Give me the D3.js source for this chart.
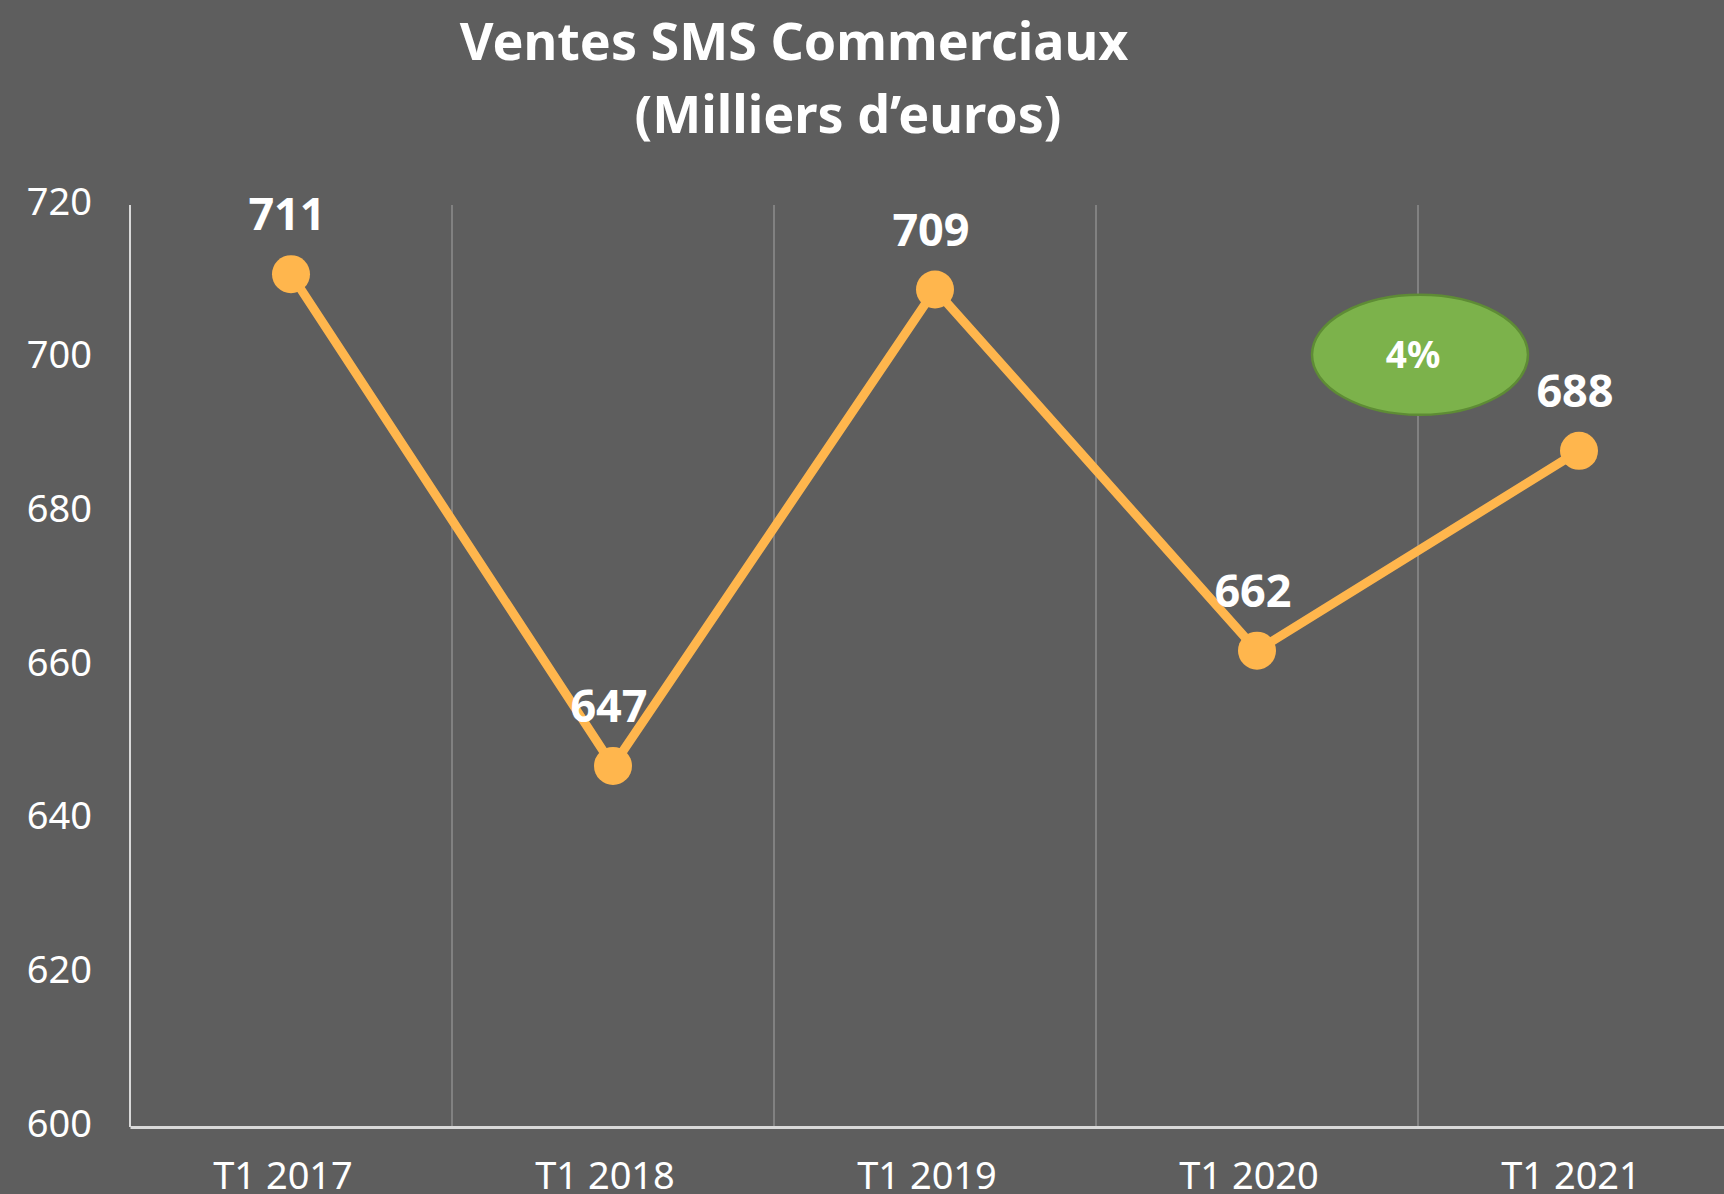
<!DOCTYPE html>
<html>
<head>
<meta charset="utf-8">
<script src="https://cdn.jsdelivr.net/npm/d3@7"></script>
<style>
body { margin:0; background:#5e5e5e; overflow:hidden; }
text { font-family: "Noto Sans", "Open Sans", sans-serif; fill:#ffffff; }
</style>
</head>
<body>
<div id="my_viz"></div>
<script>
// data
const categories = ["T1 2017", "T1 2018", "T1 2019", "T1 2020", "T1 2021"]
const sales = [711, 647, 709, 662, 688]
const yTicks = [600, 620, 640, 660, 680, 700, 720]
const titleLines = ["Ventes SMS Commerciaux", "(Milliers d\u2019euros)"]
const badgeText = "4%"

const width = 1724
const height = 1194
const margin = {top:205, right:-16, bottom:67, left:130}
const bounded = {
width : width - margin.left - margin.right,
height : height - margin.top - margin.bottom
}

var svg = d3.select("#my_viz")
.append("svg")
.attr("width", width)
.attr("height", height)

svg.append("rect")
.attr("width", width)
.attr("height", height)
.attr("fill", "#5e5e5e")

var group = svg.append("g")
.attr("transform", "translate(" + margin.left + "," + margin.top + ")")

// Title
svg.append("text")
.attr("x", 794)
.attr("y", 60)
.attr("text-anchor", "middle")
.style("font-size", "52px")
.style("font-weight", "bold")
.text(titleLines[0])
svg.append("text")
.attr("x", 848)
.attr("y", 133)
.attr("text-anchor", "middle")
.style("font-size", "52px")
.style("font-weight", "bold")
.text(titleLines[1])

// Scales
var xScale = d3.scaleBand()
.domain(categories)
.range([0, bounded.width])

var yScale = d3.scaleLinear()
.domain([600, 720])
.range([bounded.height, 0])

const cx = d => xScale(d) + xScale.bandwidth() / 2

// vertical gridlines between categories
group.selectAll(".grid")
.data(categories.slice(1))
.enter()
.append("line")
.attr("class", "grid")
.attr("x1", d => xScale(d))
.attr("x2", d => xScale(d))
.attr("y1", 0)
.attr("y2", bounded.height)
.attr("stroke", "#8e8e8e")
.attr("stroke-width", 1.5)

// Y axis
var yAxisG = group.append("g")
.call(d3.axisLeft(yScale).tickValues(yTicks).tickSize(0).tickPadding(38))
yAxisG.select(".domain").remove()
yAxisG.selectAll("text")
.style("font-size", "38px")
.style("font-family", "Noto Sans")
.attr("fill", "#ffffff")
.attr("dy", "0.24em")

group.append("line")
.attr("x1", 0).attr("x2", 0)
.attr("y1", 0).attr("y2", bounded.height)
.attr("stroke", "#d9d9d9")
.attr("stroke-width", 2)

// X axis
var xAxisG = group.append("g")
.attr("transform", "translate(0," + bounded.height + ")")
.call(d3.axisBottom(xScale).tickSize(0).tickPadding(35))
xAxisG.select(".domain")
.attr("stroke", "#d9d9d9")
.attr("stroke-width", 3)
xAxisG.selectAll("text")
.style("font-size", "38px")
.style("font-family", "Noto Sans")
.attr("fill", "#ffffff")
.attr("dy", "0.71em")
.attr("x", -8)

// Line
var line = d3.line()
.x((d, i) => cx(categories[i]))
.y(d => yScale(d))

group.append("path")
.attr("d", line(sales))
.attr("fill", "none")
.attr("stroke", "#ffb64d")
.attr("stroke-width", 9)
.attr("stroke-linejoin", "round")

group.selectAll(".dot")
.data(sales)
.enter()
.append("circle")
.attr("class", "dot")
.attr("cx", (d, i) => cx(categories[i]))
.attr("cy", d => yScale(d))
.attr("r", 19)
.attr("fill", "#ffb64d")

group.selectAll(".lbl")
.data(sales)
.enter()
.append("text")
.attr("class", "lbl")
.attr("x", (d, i) => cx(categories[i]) - 4)
.attr("y", d => yScale(d) - 44)
.attr("text-anchor", "middle")
.style("font-size", "45px")
.style("font-weight", "bold")
.text(d => d)

// growth badge between the last two quarters
var badge = group.append("g")
.attr("transform", "translate(" + (xScale(categories[4]) + 2) + "," + (yScale(700.5)) + ")")
badge.append("ellipse")
.attr("rx", 108)
.attr("ry", 60)
.attr("fill", "#7cb24b")
.attr("stroke", "#5e8c35")
.attr("stroke-width", 2.5)
badge.append("text")
.attr("x", -7)
.attr("y", 13)
.attr("text-anchor", "middle")
.style("font-size", "37px")
.style("font-weight", "bold")
.text(badgeText)
</script>
</body>
</html>
